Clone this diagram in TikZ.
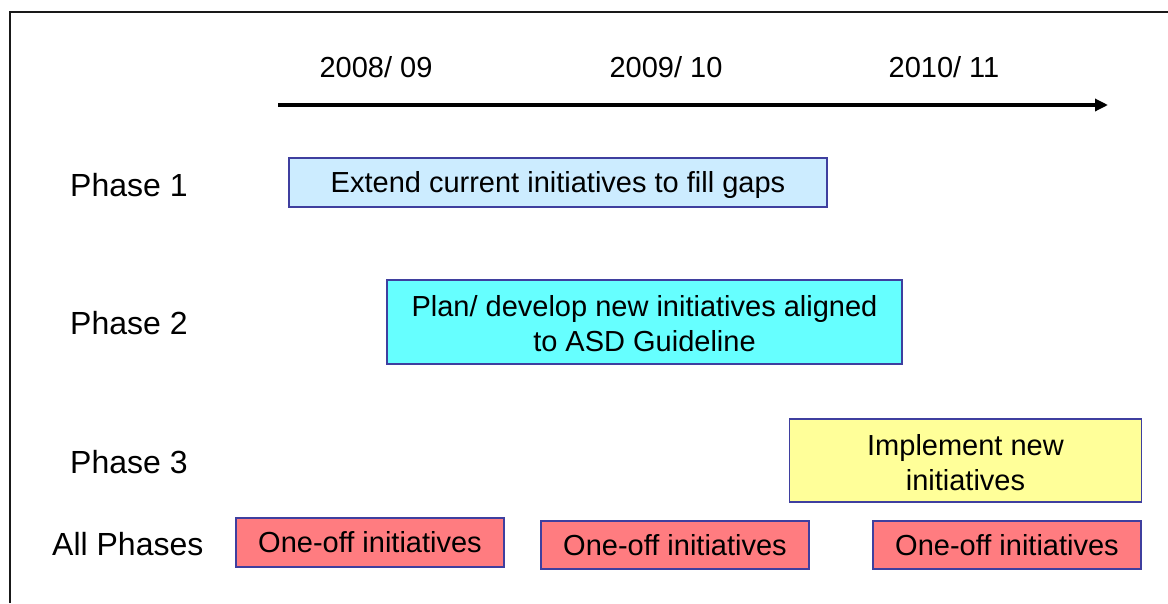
\documentclass[tikz,border=0pt]{standalone}
\usepackage{fontspec}
\setmainfont{Liberation Sans}
\usetikzlibrary{arrows.meta}
\definecolor{boxline}{HTML}{3F3F9F}
\definecolor{lightblue}{HTML}{CCECFF}
\definecolor{cyanfill}{HTML}{66FFFF}
\definecolor{yellowfill}{HTML}{FFFF99}
\definecolor{redfill}{HTML}{FF7C80}
\begin{document}
\begin{tikzpicture}[
    x=1pt, y=-1pt,
    phasebox/.style={draw=boxline,line width=1.3pt,inner sep=0pt,align=center,
      font=\fontsize{29}{35}\selectfont},
    onerow/.style={text height=21pt,text depth=1pt},
    phaselabel/.style={anchor=west,inner sep=0pt,font=\fontsize{32}{38}\selectfont},
    yearlabel/.style={inner sep=0pt,font=\fontsize{29}{35}\selectfont},
  ]
  \useasboundingbox (0,0) rectangle (1168,603);
  % Frame
  \draw[line width=1.2pt,black!90] (10,603) -- (10,12) -- (1168,12);

  % Timeline
  \node[yearlabel] (y1) at (376,67) {2008/ 09};
  \node[yearlabel] (y2) at (666,67) {2009/ 10};
  \node[yearlabel] (y3) at (944,67) {2010/ 11};
  \coordinate (tstart) at (278,105);
  \coordinate (tend) at (1108,105);
  \draw[line width=3.2pt,-{Triangle[length=13pt,width=12pt]}] (tstart) -- (tend);

  % Phase 1
  \node[phaselabel] (p1) at (70,185) {Phase 1};
  \node[phasebox,onerow,fill=lightblue,minimum width=538pt,minimum height=49pt]
    (b1) at (558,182.5) {Extend current initiatives to fill gaps};

  % Phase 2
  \node[phaselabel] (p2) at (70,323) {Phase 2};
  \node[phasebox,fill=cyanfill,minimum width=515pt,minimum height=84pt]
    (b2) at (644.5,322) {\strut Plan/ develop new initiatives aligned\\to ASD Guideline};

  % Phase 3
  \node[phaselabel] (p3) at (70,462) {Phase 3};
  \node[phasebox,fill=yellowfill,minimum width=352pt,minimum height=83pt]
    (b3) at (965.5,460.5) {\strut Implement new\\initiatives};

  % All Phases
  \node[phaselabel] (pa) at (52,544) {All Phases};
  \node[phasebox,onerow,fill=redfill,minimum width=268pt,minimum height=49pt]
    (o1) at (370,542.5) {One-off initiatives};
  \node[phasebox,onerow,fill=redfill,minimum width=268pt,minimum height=48pt]
    (o2) at (675,545) {One-off initiatives};
  \node[phasebox,onerow,fill=redfill,minimum width=268pt,minimum height=48pt]
    (o3) at (1007,545) {One-off initiatives};
\end{tikzpicture}
\end{document}
